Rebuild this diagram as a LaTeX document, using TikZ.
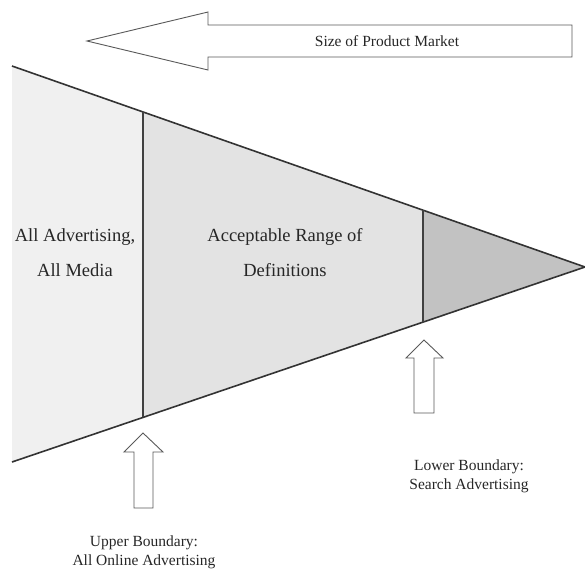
\documentclass[tikz,border=0pt]{standalone}
\usepackage{fontspec}
\setmainfont{Liberation Serif}
\begin{document}
\begin{tikzpicture}[x=1pt,y=-1pt,
  edge/.style={draw=black!80,line width=1.6pt},
  bound/.style={draw=black!75,line width=2.6pt},
  outline/.style={draw=black!65,line width=0.9pt,fill=white,line join=miter},
  region/.style={draw=none},
  lbl/.style={font=\fontsize{18.5}{20}\selectfont,align=center,text=black!85},
  small/.style={font=\fontsize{15.5}{19}\selectfont,align=center,text=black!85}]
\useasboundingbox (0,0) rectangle (585,571);

% triangle corners and boundary points
\coordinate (TL) at (12,66);
\coordinate (BL) at (12,462);
\coordinate (apex) at (585,267);
\coordinate (uT) at (143,112);
\coordinate (uB) at (143,417);
\coordinate (lT) at (423,210);
\coordinate (lB) at (423,322);

% shaded regions
\fill[region,black!6] (TL) -- (uT) -- (uB) -- (BL) -- cycle;
\fill[region,black!11] (uT) -- (lT) -- (lB) -- (uB) -- cycle;
\fill[region,black!24] (lT) -- (apex) -- (lB) -- cycle;

% converging edges
\draw[edge] (TL) -- (apex);
\draw[edge] (BL) -- (apex);

% boundary lines
\draw[bound] (uT) -- (uB);
\draw[bound] (lT) -- (lB);

% market size arrow
\draw[outline] (87,41) -- (208,12) -- (208,25) -- (572,25) -- (572,57)
  -- (208,57) -- (208,70) -- cycle;
\node[small] (market) at (387,41) {Size of Product Market};

% boundary markers
\draw[outline] (143,433) -- (163,452) -- (153,452) -- (153,508)
  -- (134,508) -- (134,452) -- (124,452) -- cycle;
\draw[outline] (424,340) -- (443,358) -- (434,358) -- (434,413)
  -- (414,413) -- (414,358) -- (406,358) -- cycle;

% region labels
\node[lbl] (all1) at (75,237) {All Advertising,};
\node[lbl] (all2) at (75,270) {All Media};
\node[lbl] (acc1) at (285,237) {Acceptable Range of};
\node[lbl] (acc2) at (285,270) {Definitions};

% boundary labels
\node[small] (low) at (469,476) {Lower Boundary:\\Search Advertising};
\node[small] (up) at (144,552) {Upper Boundary:\\All Online Advertising};
\end{tikzpicture}
\end{document}
